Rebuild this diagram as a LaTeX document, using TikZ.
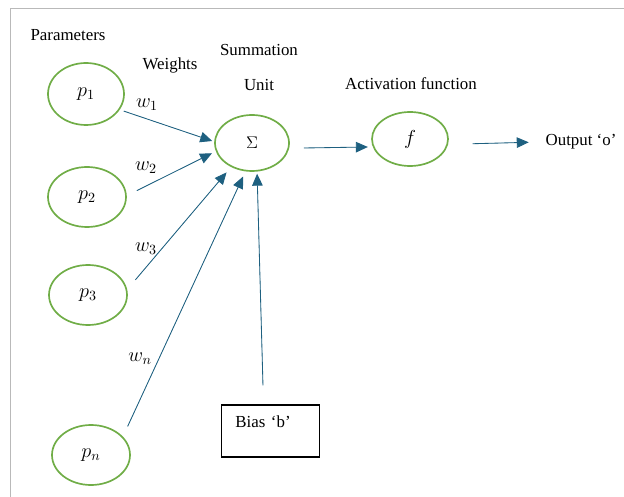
\documentclass[tikz,border=0pt]{standalone}
\usepackage{amsmath}
\usepackage{fontspec}
\setmainfont{Liberation Serif}
\usepackage{tikz}
\usetikzlibrary{arrows.meta}
\usetikzlibrary{shapes.geometric}

\definecolor{nodeGreen}{RGB}{112,173,71}
\definecolor{arrowBlue}{RGB}{30,96,128}

\begin{document}
\begin{tikzpicture}[scale=1, font=\fontsize{12}{14.4}\selectfont]
\tikzset{
    inputNode/.style={
                   ellipse,
                   draw=nodeGreen,
                   line width=1.2pt,
                   minimum width=1.95cm,
                   minimum height=1.5cm,
                   font=\fontsize{14}{16}\selectfont
    },
    weightNode/.style={
                   font=\fontsize{14}{16}\selectfont
    },
    arrowLine/.style={
                   -{Triangle[length=8.5pt,width=7.5pt]},
                   draw=arrowBlue,
                   fill=arrowBlue,
                   line width=0.6pt
    }
}
    \useasboundingbox (0,0) rectangle (15.6,-12.425);
    % frame
    \draw[gray!55, line width=1.2pt] (15.6,-0.2125) -- (0.2625,-0.2125) -- (0.2625,-12.425);

    \node (params) at (1.70,-0.875) {Parameters};
    \node (weights) at (4.25,-1.625) {Weights};
    \node (sumLabel)[align=center] at (6.475,-1.69) {Summation\\[10pt]Unit};
    \node (actLabel) at (10.275,-2.1) {Activation function};

    \node (p1)[inputNode, minimum width=1.9cm, minimum height=1.55cm] at (2.15,-2.35) {$p_1$};
    \node (p2)[inputNode] at (2.175,-4.925) {$p_2$};
    \node (p3)[inputNode] at (2.2,-7.375) {$p_3$};
    \node (pn)[inputNode] at (2.275,-11.375) {$p_n$};

    \node (sum)[inputNode, minimum width=1.85cm, minimum height=1.4cm, font=\fontsize{12}{14.4}\selectfont] at (6.3,-3.575) {$\Sigma$};
    \node (f)[inputNode, minimum width=1.9cm, minimum height=1.35cm] at (10.25,-3.475) {$f$};
    \node (out) at (14.525,-3.55) {Output ‘o’};

    \node (bias)[draw, line width=0.9pt, align=left, text width=50pt,
                 inner xsep=10pt, inner ysep=7pt, text height=9pt, text depth=14pt]
                 at (6.7625,-10.775) {Bias ‘b’};

    \node (w1)[weightNode] at (3.675,-2.625) {$w_1$};
    \node (w2)[weightNode] at (3.65,-4.2) {$w_2$};
    \node (w3)[weightNode] at (3.65,-6.225) {$w_3$};
    \node (wn)[weightNode] at (3.5,-8.975) {$w_n$};

    \draw[arrowLine, shorten <=3pt, shorten >=1.5pt] (p1.-25) -- (sum.178);
    \draw[arrowLine, shorten <=8pt, shorten >=3pt] (p2.2) -- (sum.193);
    \draw[arrowLine, shorten <=9pt, shorten >=5pt] (p3.8) -- (sum.229);
    \draw[arrowLine, shorten <=8pt, shorten >=4pt] (pn.30) -- (sum.257);
    \draw[arrowLine, shorten <=13.5pt, shorten >=1.5pt] ([xshift=-0.175cm]bias.north) -- (sum.280);
    \draw[arrowLine, shorten <=10.5pt, shorten >=3.5pt] (sum.-8) -- (f.192);
    \draw[arrowLine, shorten <=17.5pt, shorten >=8.5pt] (f.-8) -- (out.west);

\end{tikzpicture}
\end{document}
